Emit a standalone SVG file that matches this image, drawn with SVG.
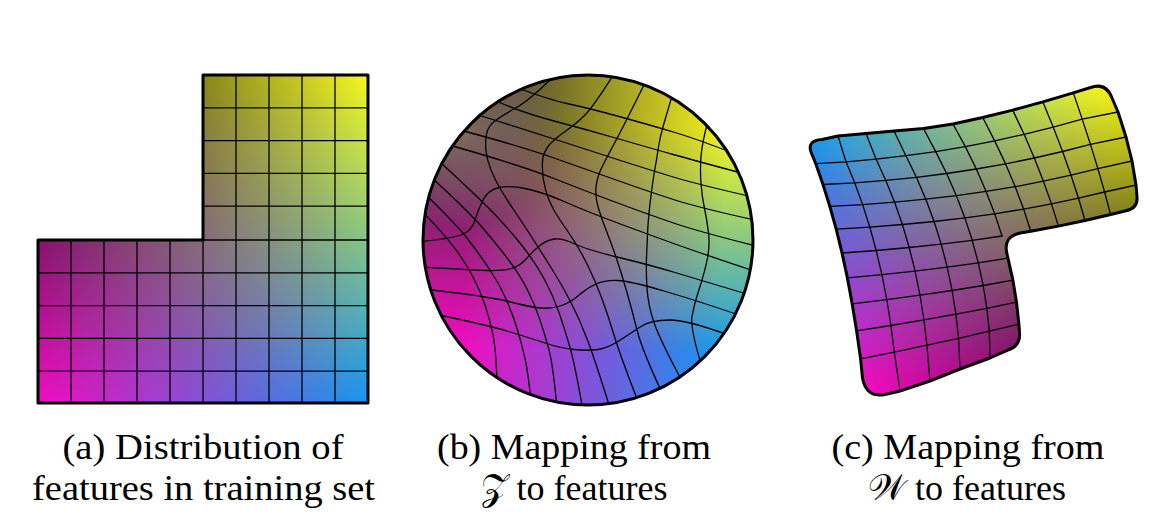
<svg xmlns="http://www.w3.org/2000/svg" width="1162" height="526" viewBox="0 0 1162 526">
<style>
.grid{fill:none;stroke:#000;stroke-width:1.3;stroke-linejoin:round;stroke-linecap:round}
.outline{fill:none;stroke:#000;stroke-width:3;stroke-linejoin:round}
.cap{font-family:'Liberation Serif','Times New Roman',Times,serif;font-size:36px;fill:#000}
.mid{text-anchor:middle}
</style>
<defs>
  <linearGradient id="gBot" gradientUnits="userSpaceOnUse" x1="0" y1="0" x2="100" y2="0">
    <stop offset="0" stop-color="#f20cc0"/><stop offset="1" stop-color="#1696f0"/>
  </linearGradient>
  <linearGradient id="gTop" gradientUnits="userSpaceOnUse" x1="0" y1="0" x2="100" y2="0">
    <stop offset="0" stop-color="#181818"/><stop offset="1" stop-color="#f8f81c"/>
  </linearGradient>
  <linearGradient id="gTopB" gradientUnits="userSpaceOnUse" x1="0" y1="0" x2="100" y2="0">
    <stop offset="0" stop-color="#3a3030"/><stop offset="1" stop-color="#f8f81c"/>
  </linearGradient>
  <linearGradient id="gFade" gradientUnits="userSpaceOnUse" x1="0" y1="0" x2="0" y2="100">
    <stop offset="0" stop-color="#fff" stop-opacity="1"/><stop offset="1" stop-color="#fff" stop-opacity="0"/>
  </linearGradient>
  <mask id="mFade" maskUnits="userSpaceOnUse" x="-200" y="-200" width="500" height="500">
    <rect x="-200" y="-200" width="500" height="500" fill="url(#gFade)"/>
  </mask>
  <g id="sq">
    <rect x="-200" y="-200" width="500" height="500" fill="url(#gBot)"/>
    <rect x="-200" y="-200" width="500" height="500" fill="url(#gTop)" mask="url(#mFade)"/>
  </g>
  <g id="sqB">
    <rect x="-200" y="-200" width="500" height="500" fill="url(#gBot)"/>
    <rect x="-200" y="-200" width="500" height="500" fill="url(#gTopB)" mask="url(#mFade)"/>
  </g>
  <radialGradient id="rOver" gradientUnits="userSpaceOnUse" cx="462" cy="128" r="100">
    <stop offset="0" stop-color="#8a7862" stop-opacity="0.85"/>
    <stop offset="0.55" stop-color="#8a7070" stop-opacity="0.5"/>
    <stop offset="1" stop-color="#8a7070" stop-opacity="0"/>
  </radialGradient>
  <clipPath id="clipA"><path d="M38,240 H203 V75 H368 V403 H38 Z"/></clipPath>
  <clipPath id="clipB"><circle cx="588" cy="240" r="165"/></clipPath>
  <clipPath id="clipC"><path id="shapeC" d="M822,139.5 L838,136 L866,133.5 L894,131 L923.5,128.5 L953,124 L982.7,117.5 L1012.7,110.1 L1042.9,101.9 L1073.3,92.9 L1090.6,87.5 Q1106,82 1112,98 L1118,112 L1126,137 L1132,161 L1136,185 L1137,197 Q1138,209 1124,211.2 L1110.6,214.5 L1085,220.5 L1058.4,226.1 L1030.8,231.3 L1021.7,232.8 Q1002,236 1007.3,255.3 L1012.9,280.2 L1016.5,302.2 L1018.9,324.2 L1019.6,334 Q1020,346 1008.4,349.8 L990,358 L960,369 L930,381 L900,391 L885,394.5 Q866,398 862.5,378 L860.6,358.9 L856.6,330.9 L852.2,303.9 L847.4,277.9 L842,253 L836.2,229.1 L829.8,206.3 L823,184.5 L815.8,163.7 L811,152 Q807,140.5 822,139.5 Z"/></clipPath>
</defs>

<rect width="1162" height="526" fill="#fff"/>

<g id="panel-a">
  <g clip-path="url(#clipA)">
    <use href="#sq" transform="translate(38,75) scale(3.3,3.28)"/>
  </g>
  <path class="grid" d="M71,240V403 M104,240V403 M137,240V403 M170,240V403 M203,240V403 M236,75V403 M269,75V403 M302,75V403 M335,75V403 M203,107.8H368 M203,140.6H368 M203,173.4H368 M203,206.2H368 M203,240H368 M38,272.8H368 M38,305.6H368 M38,338.4H368 M38,371.2H368"/>
  <path class="outline" d="M38,240 H203 V75 H368 V403 H38 Z"/>
</g>

<g id="panel-b">
  <g clip-path="url(#clipB)">
    <use href="#sqB" transform="matrix(2.55,0.1,-0.15,2.25,475,120)"/>
    <circle cx="462" cy="128" r="100" fill="url(#rOver)"/>
    <g class="grid">
      <path d="M518,88 Q550,100 569,104 Q588,108 619,116.5 Q650,125 675,132.5 Q700,140 735,154"/>
      <path d="M494,100 Q520,112 554,121 Q588,130 619,139 Q650,148 675,155 Q700,162 745,174"/>
      <path d="M475,114 Q520,128 554,139 Q588,150 619,160 Q650,170 675,177.5 Q700,185 753,197"/>
      <path d="M460,130 Q520,146 554,158 Q588,170 619,181 Q650,192 675,200 Q700,208 759,221"/>
      <path d="M449,145 Q520,165 554,178.5 Q588,192 619,203.5 Q650,215 675,223.5 Q700,232 760,247"/>
      <path d="M418,242 Q455,238 463.5,234 Q472,230 475,220 Q478,210 483,200 Q488,190 499,187.5 Q510,185 527.5,189 Q545,193 566.5,202.5 Q588,212 619,223.5 Q650,235 675,244 Q700,253 757,272"/>
      <path d="M420,267 Q470,270 486.5,270.5 Q503,271 511.5,268.5 Q520,266 526.5,258.5 Q533,251 540,245.5 Q547,240 554.5,239 Q562,238 575,244 Q588,250 619,257.5 Q650,265 675,272.5 Q700,280 750,295"/>
      <path d="M423,289 Q487,296 508.5,301.5 Q530,307 540,308 Q550,309 560,306 Q570,303 578.5,295.5 Q587,288 596,284 Q605,280 617.5,280.5 Q630,281 664,291 Q698,301 742,316"/>
      <path d="M439,315 Q487,325 508.5,331.5 Q530,338 545,343 Q560,348 574,349.5 Q588,351 598,349.5 Q608,348 619.5,340.5 Q631,333 641,326.5 Q651,320 669.5,320 Q688,320 731,336"/>
      <path d="M421,210 Q445,235 455,248.5 Q465,262 472.5,276 Q480,290 485,305 Q490,320 493,335 Q496,350 497,382"/>
      <path d="M426,195 Q457,225 468.5,240 Q480,255 490,270 Q500,285 506.5,300 Q513,315 517.5,330 Q522,345 525,358.5 Q528,372 531,401"/>
      <path d="M432,178 Q467,210 481,226 Q495,242 507.5,258.5 Q520,275 527.5,290 Q535,305 540,320 Q545,335 549,350 Q553,365 557,408"/>
      <path d="M440,162 Q478,197 493,212.5 Q508,228 521.5,245 Q535,262 544,278.5 Q553,295 559,312.5 Q565,330 570,347.5 Q575,365 583,411"/>
      <path d="M556,74 Q530,100 516.5,107.5 Q503,115 495.5,120.5 Q488,126 486.5,134 Q485,142 486,151 Q487,160 491,170 Q495,180 501,190 Q507,200 514.5,211 Q522,222 531,236 Q540,250 551,267.5 Q562,285 571,302.5 Q580,320 587.5,340 Q595,360 611,411"/>
      <path d="M614,74 Q593,107 585,115 Q577,123 565,131.5 Q553,140 548,146.5 Q543,153 542.5,161.5 Q542,170 543.5,180 Q545,190 549,200 Q553,210 560,220 Q567,230 573.5,240 Q580,250 587.5,265 Q595,280 601.5,297.5 Q608,315 614,335 Q620,355 639,404"/>
      <path d="M645,83 Q633,107 626.5,120 Q620,133 613.5,145 Q607,157 602,167 Q597,177 596,187 Q595,197 598.5,208.5 Q602,220 607,232.5 Q612,245 617,260 Q622,275 627,292.5 Q632,310 637,330 Q642,350 663,395"/>
      <path d="M672,96 Q667,113 663.5,125 Q660,137 658.5,147 Q657,157 655,168.5 Q653,180 651.5,191.5 Q650,203 649,213 Q648,223 647.5,234 Q647,245 646.5,258 Q646,271 647,288 Q648,305 654,322.5 Q660,340 683,383"/>
      <path d="M708,121 Q702,143 701,156.5 Q700,170 701,183.5 Q702,197 704.5,208.5 Q707,220 708.5,232.5 Q710,245 707.5,258 Q705,271 699.5,288 Q694,305 692,316.5 Q690,328 702,367"/>
    </g>
  </g>
  <circle class="outline" cx="588" cy="240" r="165"/>
</g>

<g id="panel-c">
  <g clip-path="url(#clipC)">
    <use href="#sq" transform="matrix(-0.56,-2.44,-2.96,0.61,1160,327)"/>
    <g class="grid">
      <path d="M815.8,163.7 L846,161.8 L876,159.1 L905.9,155.7 L935.7,151.6 L965.3,146.6 L994.7,140.9 L1024.1,134.3 L1053.2,127.1 L1082.2,119.1 L1118,112"/>
      <path d="M823,184.5 L854.7,182.8 L885.8,180.4 L916.4,177.3 L946.6,173.5 L976.3,169 L1005.6,163.9 L1034.3,158 L1062.6,151.5 L1090.4,144.3 L1126,137"/>
      <path d="M829.8,206.3 L862.6,204.6 L894.6,202.2 L925.8,199.2 L956.4,195.7 L986.1,191.4 L1015.2,186.7 L1043.4,181.2 L1071,175.2 L1097.9,168.6 L1132,161"/>
      <path d="M836.2,229.1 L869.8,227.1 L902.4,224.5 L934.1,221.5 L964.9,217.9 L994.7,213.8 L1023.6,209.1 L1051.5,203.9 L1078.5,198.2 L1104.6,192 L1136,185"/>
      <path d="M842,253 L876.2,250.5 L909.2,247.5 L941.2,244.1 L972.2,240.3 L1002,236"/>
      <path d="M847.4,277.9 L881.9,274.7 L915.1,271.1 L947.2,267.1 L978.3,262.8 L1008.1,258.2"/>
      <path d="M852.2,303.9 L886.8,299.7 L920,295.2 L952.1,290.5 L983.2,285.5 L1012.9,280.2"/>
      <path d="M856.6,330.9 L890.9,325.5 L923.9,319.9 L955.9,314.2 L986.8,308.3 L1016.5,302.2"/>
      <path d="M860.6,358.9 L894.3,352.1 L926.9,345.2 L958.6,338.3 L989.3,331.2 L1018.9,324.2"/>
      <path d="M838,136 L846,161.8 L854.7,182.8 L862.6,204.6 L869.8,227.1 L876.2,250.5 L881.9,274.7 L886.8,299.7 L890.9,325.5 L894.3,352.1 L900,391"/>
      <path d="M866,133.5 L876,159.1 L885.8,180.4 L894.6,202.2 L902.4,224.5 L909.2,247.5 L915.1,271.1 L920,295.2 L923.9,319.9 L926.9,345.2 L930,381"/>
      <path d="M894,131 L905.9,155.7 L916.4,177.3 L925.8,199.2 L934.1,221.5 L941.2,244.1 L947.2,267.1 L952.1,290.5 L955.9,314.2 L958.6,338.3 L960,369"/>
      <path d="M923.5,128.5 L935.7,151.6 L946.6,173.5 L956.4,195.7 L964.9,217.9 L972.2,240.3 L978.3,262.8 L983.2,285.5 L986.8,308.3 L989.3,331.2 L990,358"/>
      <path d="M953,124 L965.3,146.6 L976.3,169 L986.1,191.4 L994.7,213.8 L1002,236"/>
      <path d="M982.7,117.5 L994.7,140.9 L1005.6,163.9 L1015.2,186.7 L1023.6,209.1 L1030.8,231.3"/>
      <path d="M1012.7,110.1 L1024.1,134.3 L1034.3,158 L1043.4,181.2 L1051.5,203.9 L1058.4,226.1"/>
      <path d="M1042.9,101.9 L1053.2,127.1 L1062.6,151.5 L1071,175.2 L1078.5,198.2 L1085,220.5"/>
      <path d="M1073.3,92.9 L1082.2,119.1 L1090.4,144.3 L1097.9,168.6 L1104.6,192 L1110.6,214.5"/>
    </g>
  </g>
  <use href="#shapeC" class="outline"/>
</g>

<g id="captions">
  <text class="cap" x="62.5" y="459" textLength="281" lengthAdjust="spacingAndGlyphs">(a) Distribution of</text>
  <text class="cap" x="32" y="500" textLength="343" lengthAdjust="spacingAndGlyphs">features in training set</text>
  <text class="cap" x="437" y="459" textLength="274" lengthAdjust="spacingAndGlyphs">(b) Mapping from</text>
  <text class="cap mid" x="574" y="500"><tspan font-family="DejaVu Serif, DejaVu Sans, serif">&#x1D4B5;</tspan> to features</text>
  <text class="cap" x="831.5" y="459" textLength="273" lengthAdjust="spacingAndGlyphs">(c) Mapping from</text>
  <text class="cap mid" x="967" y="500"><tspan font-family="DejaVu Serif, DejaVu Sans, serif">&#x1D4B2;</tspan> to features</text>
</g>
</svg>
